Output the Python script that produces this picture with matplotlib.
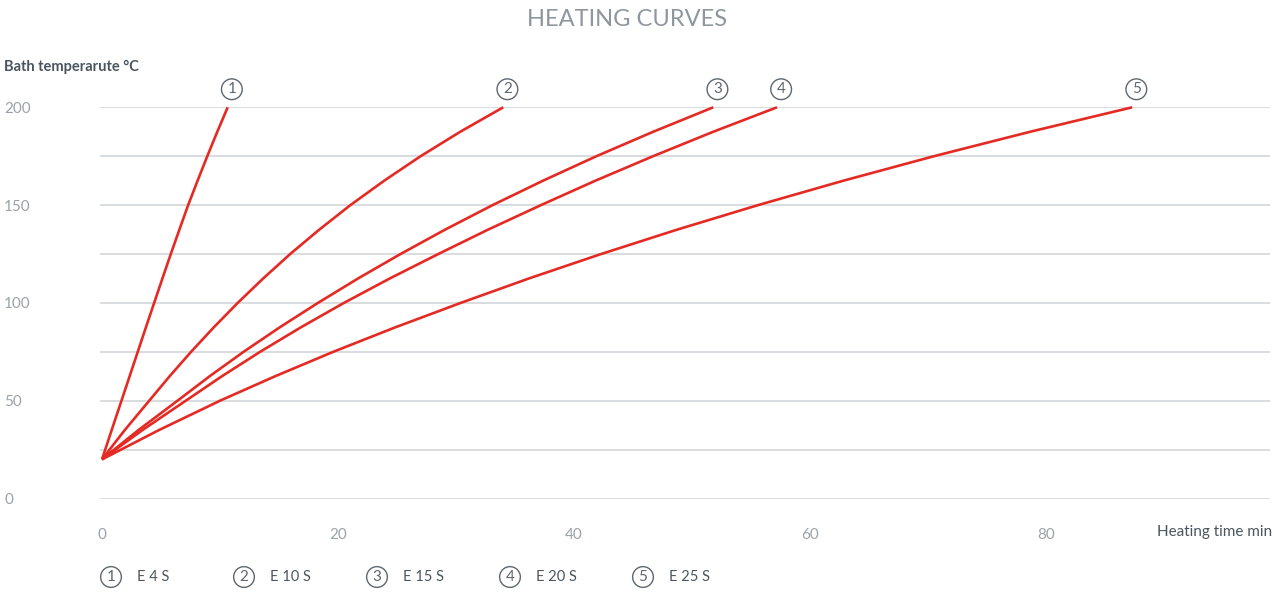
import numpy as np
import matplotlib.pyplot as plt

plt.rcParams['font.family'] = ['Lato', 'DejaVu Sans']

# temperatures (°C) and the heating time (min)
temps = [20, 35, 50, 62.5, 75, 87.5, 100, 112.5, 125, 137.5, 150, 162.5, 175, 187.5, 200]
t_e4s = [0, 0.82, 1.65, 2.34, 3.03, 3.72, 4.42, 5.12, 5.83, 6.56, 7.3, 8.1, 8.92, 9.77, 10.65]
t_e10s = [0, 1.93, 4.0, 5.73, 7.55, 9.47, 11.5, 13.66, 15.95, 18.42, 21.05, 23.92, 27.0, 30.36, 34.0]
t_e15s = [0, 3.09, 6.4, 9.12, 12.0, 15.06, 18.3, 21.7, 25.3, 29.09, 33.1, 37.38, 41.9, 46.71, 51.8]
t_e20s = [0, 3.43, 7.1, 10.16, 13.4, 16.85, 20.5, 24.39, 28.5, 32.73, 37.2, 41.82, 46.7, 51.8, 57.2]
t_e25s = [0, 4.83, 10.0, 14.67, 19.6, 24.85, 30.4, 36.18, 42.3, 48.76, 55.6, 62.84, 70.5, 78.66, 87.3]

series = [t_e4s, t_e10s, t_e15s, t_e20s, t_e25s]
names = ["E 4 S", "E 10 S", "E 15 S", "E 20 S", "E 25 S"]

x_ticks = [0, 20, 40, 60, 80]
y_ticks = [0, 25, 50, 75, 100, 125, 150, 175, 200]

red = '#e42a23'
grid_c = '#d5dadd'
light = '#9aa3aa'
dark = '#4a555e'

fig = plt.figure(figsize=(12.8, 6), dpi=100)
ax = fig.add_axes([100 / 1280, (600 - 498.5) / 600, 1170 / 1280, (498.5 - 107.3) / 600])

for tt in series:
    ax.plot(tt, temps, color=red, lw=1.9, solid_capstyle='butt', solid_joinstyle='round',
            clip_on=False, zorder=3)

ax.set_xlim(-0.17, 98.98)
ax.set_ylim(0, 200)

ax.set_yticks(y_ticks)
ax.set_yticklabels([str(v) if v % 50 == 0 else '' for v in y_ticks])
ax.grid(axis='y', color=grid_c, lw=1.3)
ax.set_xticks(x_ticks)
ax.set_xticklabels([str(v) for v in x_ticks])
ax.tick_params(axis='both', length=0, labelsize=11, labelcolor=light)
ax.tick_params(axis='x', pad=21)
ax.tick_params(axis='y', pad=69)
for lab in ax.get_yticklabels():
    lab.set_ha('left')
for s in ax.spines.values():
    s.set_visible(False)

# circled numbers above the curve ends
for i, tt in enumerate(series):
    ax.annotate(str(i + 1), xy=(tt[-1], 200), xytext=(3, 13), textcoords='offset points',
                ha='center', va='center', fontsize=11, color='#5d676f', annotation_clip=False,
                bbox=dict(boxstyle='circle,pad=0.22', fc='white', ec='#5d676f', lw=1.0))

# legend row
for i, name in enumerate(names):
    x = 111 + 133 * i
    fig.text(x / 1280, 1 - 577 / 600, str(i + 1), ha='center', va='center', fontsize=11,
             color='#5d676f',
             bbox=dict(boxstyle='circle,pad=0.22', fc='white', ec='#5d676f', lw=1.0))
    fig.text((x + 26) / 1280, 1 - 577 / 600, name, ha='left', va='center', fontsize=10.5,
             color=dark)

fig.text(627 / 1280, 1 - 19 / 600, 'HEATING CURVES', ha='center', va='center',
         fontsize=17, color='#8d979f')
fig.text(4 / 1280, 1 - 67 / 600, 'Bath temperarute °C', ha='left', va='center',
         fontsize=10.5, fontweight='bold', color=dark)
fig.text(1272 / 1280, 1 - 532 / 600, 'Heating time min', ha='right', va='center',
         fontsize=11, color=dark)

fig.savefig('out.png', dpi=100)
